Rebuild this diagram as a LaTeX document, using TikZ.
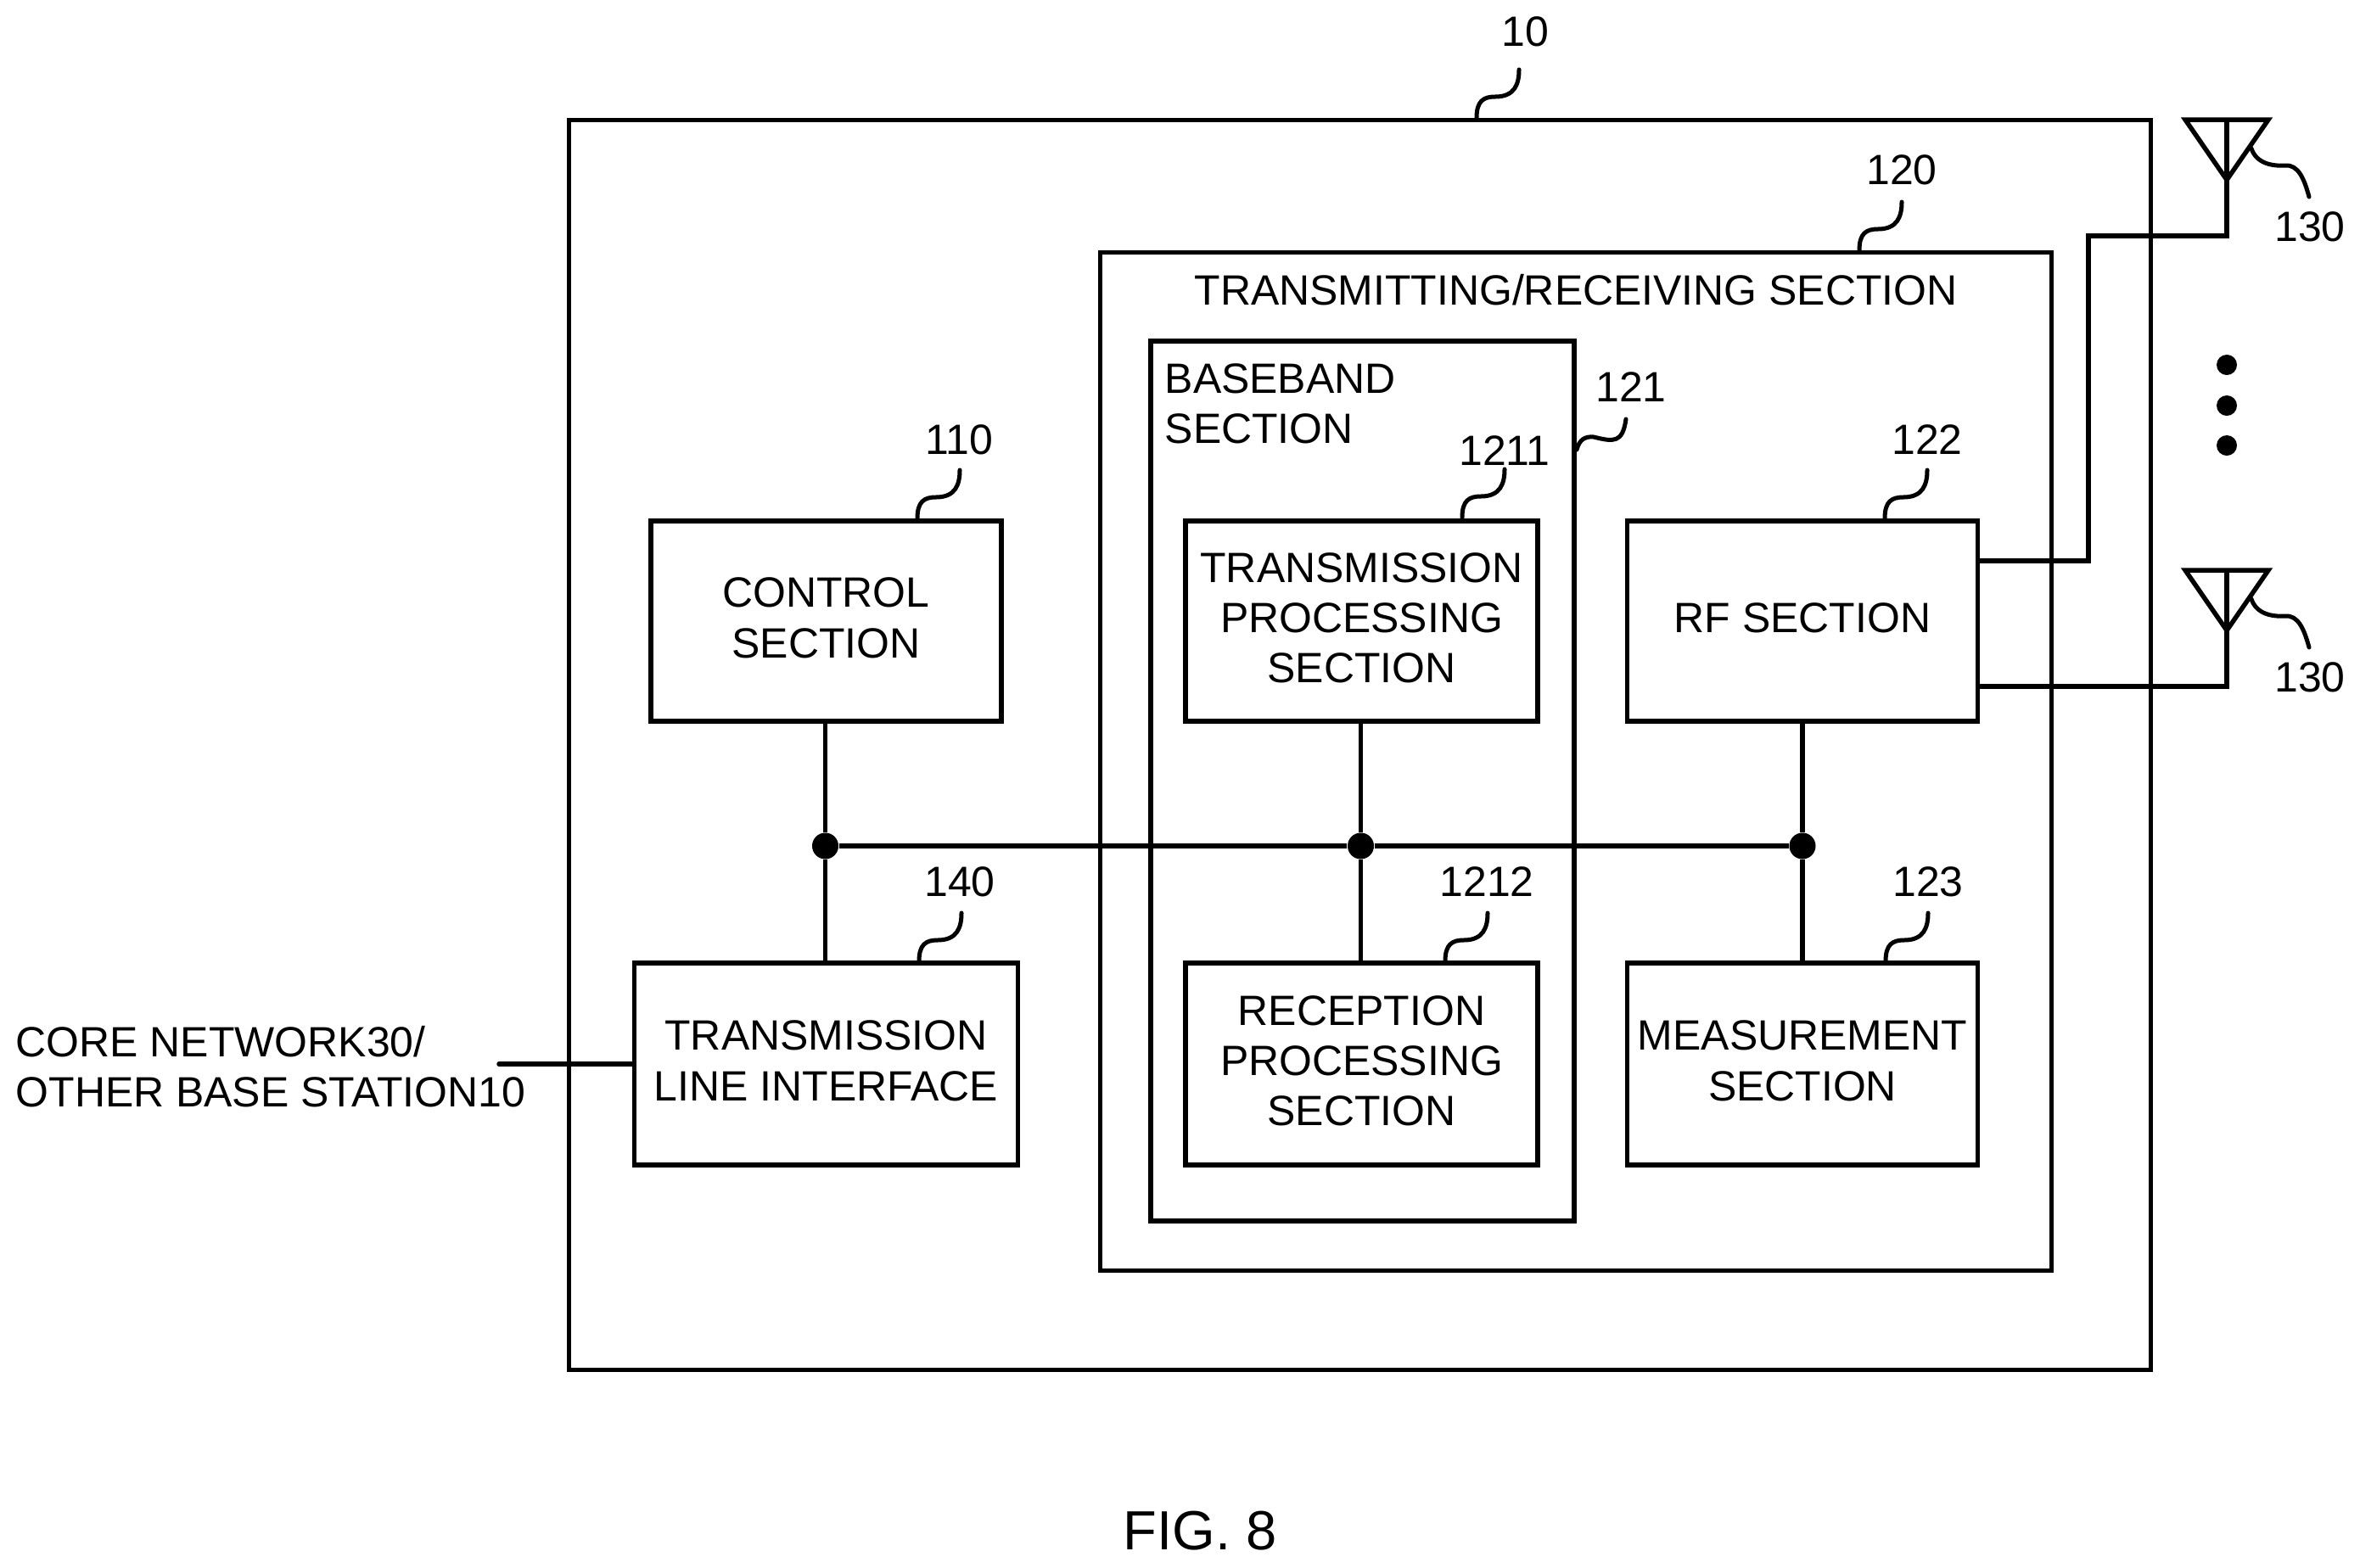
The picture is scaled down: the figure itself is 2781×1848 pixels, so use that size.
\documentclass[tikz,border=0pt]{standalone}
\usepackage{fontspec}
\setmainfont{Liberation Sans}
\tikzset{
  wire/.style={line width=0.055cm},
  leader/.style={line width=0.05cm, line cap=round},
  block/.style={draw, line width=0.055cm, inner sep=0pt, align=center, text depth=0.08cm},
  refnum/.style={inner sep=0pt},
  junction/.style={circle, fill=black, inner sep=0pt, minimum size=0.31cm},
  dotmark/.style={circle, fill=black, inner sep=0pt, minimum size=0.24cm},
  leaderup/.pic={\draw[leader] (0,0) .. controls (0,-20) and (8,-25) .. (22,-25) .. controls (45,-25) and (50,-40) .. (50,-57);},
  leaderside/.pic={\draw[leader] (0,0) .. controls (3,-12) and (10,-16) .. (20,-15) .. controls (44,-9) and (54,-8) .. (58,-36);},
  leaderant/.pic={\draw[leader] (0,0) .. controls (6,18) and (25,21) .. (40,20) .. controls (55,19) and (62,35) .. (68,57);}
}
\begin{document}
\begin{tikzpicture}[x=0.01cm, y=-0.01cm, font=\fontsize{14.2}{16.9}\selectfont]
    \useasboundingbox (0,0) rectangle (2781,1848);

    % outer boxes
    \node[block, minimum width=18.63cm, minimum height=14.72cm] (station) at (1602.5,878) {};
    \node[block, minimum width=11.2cm, minimum height=11.99cm] (trx) at (1857,897.5) {};
    \node[block, minimum width=4.99cm, minimum height=10.36cm] (baseband) at (1605.5,920.5) {};
    \node (trxtitle) at (1857,342) {TRANSMITTING/RECEIVING SECTION};
    \node[anchor=west, align=left, inner sep=0pt] (bbtitle) at (1372,476) {BASEBAND\\SECTION};

    % inner blocks
    \node[block, minimum width=4.13cm, minimum height=2.36cm] (control) at (973.5,732) {CONTROL\\SECTION};
    \node[block, minimum width=4.52cm, minimum height=2.38cm] (iface) at (973.5,1254) {TRANSMISSION\\LINE INTERFACE};
    \node[block, minimum width=4.15cm, minimum height=2.36cm] (txproc) at (1604.5,732) {TRANSMISSION\\PROCESSING\\SECTION};
    \node[block, minimum width=4.15cm, minimum height=2.38cm] (rxproc) at (1604.5,1254) {RECEPTION\\PROCESSING\\SECTION};
    \node[block, minimum width=4.13cm, minimum height=2.36cm] (rf) at (2124,732) {RF SECTION};
    \node[block, minimum width=4.13cm, minimum height=2.38cm] (meas) at (2124,1254) {MEASUREMENT\\SECTION};

    % bus
    \node[junction] (busl) at (972.5,997) {};
    \node[junction] (busm) at (1603.5,997) {};
    \node[junction] (busr) at (2124,997) {};
    \draw[wire] (busl) -- (busm);
    \draw[wire] (busm) -- (busr);
    \draw[wire] (control.south -| busl) -- (busl);
    \draw[wire] (busl) -- (iface.north -| busl);
    \draw[wire] (txproc.south -| busm) -- (busm);
    \draw[wire] (busm) -- (rxproc.north -| busm);
    \draw[wire] (rf) -- (busr);
    \draw[wire] (busr) -- (meas);

    % core network side
    \node[anchor=west, align=left, inner sep=0pt] (corenet) at (18,1257) {CORE NETWORK30/\\OTHER BASE STATION10};
    \coordinate (corefree) at (588,1254);
    \draw[wire, line cap=round] (corefree) -- (iface);

    % antennas
    \coordinate (ant1tip) at (2624,141);
    \coordinate (ant1foot) at (2624,278);
    \coordinate (bend1) at (2461,661);
    \draw[wire, line join=miter] (2575,141) -- (2673,141) -- (2624,212) -- cycle;
    \draw[wire] (ant1tip) -- (ant1foot) -| (bend1) -- (rf.east |- bend1);

    \coordinate (ant2tip) at (2624,672);
    \coordinate (ant2foot) at (2624,809);
    \draw[wire, line join=miter] (2575,672) -- (2673,672) -- (2624,743) -- cycle;
    \draw[wire] (ant2tip) -- (ant2foot) -- (rf.east |- ant2foot);

    \node[dotmark] (dot1) at (2624,430) {};
    \node[dotmark] (dot2) at (2624,478) {};
    \node[dotmark] (dot3) at (2624,525) {};

    % reference numbers
    \node[refnum] (num10) at (1797,37) {10};
    \pic at (1740,139) {leaderup};
    \node[refnum] (num120) at (2241,200) {120};
    \pic at (2191,295) {leaderup};
    \node[refnum] (num121) at (1922,456) {121};
    \pic at (1858,530) {leaderside};
    \node[refnum] (num1211) at (1773,531) {1211};
    \pic at (1723,610) {leaderup};
    \node[refnum] (num110) at (1130,518) {110};
    \pic at (1081,611) {leaderup};
    \node[refnum] (num122) at (2271,518) {122};
    \pic at (2221,611) {leaderup};
    \node[refnum] (num140) at (1131,1039) {140};
    \pic at (1083,1133) {leaderup};
    \node[refnum] (num1212) at (1752,1039) {1212};
    \pic at (1703,1133) {leaderup};
    \node[refnum] (num123) at (2272,1039) {123};
    \pic at (2222,1133) {leaderup};
    \node[refnum] (num130a) at (2722,267) {130};
    \pic at (2653,175) {leaderant};
    \node[refnum] (num130b) at (2722,798) {130};
    \pic at (2653,706) {leaderant};

    % caption
    \node (figcap) at (1414,1804) {\fontsize{18.5}{22}\selectfont FIG. 8};
\end{tikzpicture}
\end{document}
